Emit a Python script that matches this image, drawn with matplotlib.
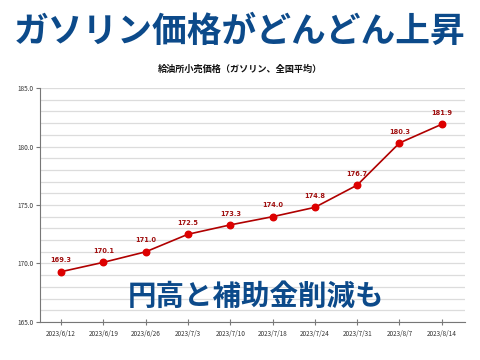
import matplotlib
matplotlib.use("Agg")
import matplotlib.pyplot as plt
from matplotlib.ticker import MultipleLocator, FormatStrFormatter

plt.rcParams['font.family'] = ['Noto Sans CJK JP', 'DejaVu Sans']

dates = ["2023/6/12", "2023/6/19", "2023/6/26", "2023/7/3", "2023/7/10",
         "2023/7/18", "2023/7/24", "2023/7/31", "2023/8/7", "2023/8/14"]
prices = [169.3, 170.1, 171.0, 172.5, 173.3, 174.0, 174.8, 176.7, 180.3, 181.9]

title = "ガソリン価格がどんどん上昇"
subtitle = "給油所小売価格（ガソリン、全国平均）"
overlay = "円高と補助金削減も"

W, H = 480, 360
fig = plt.figure(figsize=(4.8, 3.6), dpi=100)
fig.patch.set_facecolor("white")

ax = fig.add_axes([40 / W, 1 - 322 / H, (465 - 40) / W, (322 - 88) / H])
x = list(range(len(dates)))
ax.plot(x, prices, color="#b00000", lw=1.2, zorder=3)
ax.scatter(x, prices, s=22, color="#dd0000", zorder=4)
for xi, p in zip(x, prices):
    ax.annotate(f"{p:.1f}", (xi, p), xytext=(0, 6), textcoords="offset points",
                ha="center", va="bottom", fontsize=4.8, color="#a01010",
                fontweight="bold", family="DejaVu Sans")

ax.set_ylim(165, 185)
ax.set_xlim(-0.5, len(dates) - 0.5 + 0.05)
ax.yaxis.set_major_locator(MultipleLocator(5))
ax.yaxis.set_minor_locator(MultipleLocator(1))
ax.yaxis.set_major_formatter(FormatStrFormatter("%.1f"))
ax.set_xticks(x)
ax.set_xticklabels(dates)
ax.grid(axis="y", which="both", color="#dcdcdc", lw=0.9, zorder=0)
ax.tick_params(axis="y", which="major", labelsize=4.6, length=3, color="#777777",
               labelcolor="#333333", pad=2)
ax.tick_params(axis="y", which="minor", length=0)
ax.tick_params(axis="x", labelsize=4.6, length=4, direction="inout", color="#777777",
               labelcolor="#333333", pad=4)
for s in ["top", "right"]:
    ax.spines[s].set_visible(False)
for s in ["left", "bottom"]:
    ax.spines[s].set_color("#777777")
    ax.spines[s].set_linewidth(0.8)
ax.set_axisbelow(True)

fig.text(0.5, 1 - 31 / H, title, ha="center", va="center", fontsize=25,
         fontweight="bold", color="#0c4a8a")
fig.text(0.5, 1 - 69 / H, subtitle, ha="center", va="center", fontsize=6.6,
         fontweight="bold", color="#111111")
fig.text(256 / W, 1 - 297 / H, overlay, ha="center", va="center", fontsize=20.5,
         fontweight="bold", color="#0c4a8a", zorder=10)

fig.savefig("out.png", dpi=100, facecolor="white")
